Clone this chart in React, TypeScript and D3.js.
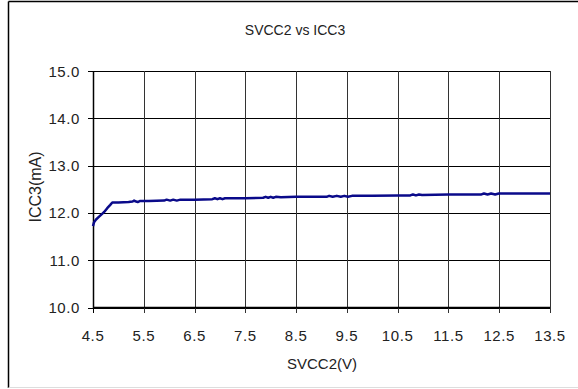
import React from "react";
import * as d3 from "d3";

const title = "SVCC2 vs ICC3";
const xTitle = "SVCC2(V)";
const yTitle = "ICC3(mA)";
const xTicks = [4.5, 5.5, 6.5, 7.5, 8.5, 9.5, 10.5, 11.5, 12.5, 13.5];
const yTicks = [10, 11, 12, 13, 14, 15];

const voltage = [4.5, 4.52, 4.56, 4.62, 4.68, 4.72, 4.78, 4.84, 4.88, 5.0, 5.2, 5.28, 5.31, 5.35, 5.38, 5.42, 5.6, 5.9, 5.95, 6.02, 6.08, 6.15, 6.22, 6.5, 6.85, 6.9, 6.95, 7.0, 7.05, 7.1, 7.5, 7.85, 7.9, 7.95, 8.0, 8.05, 8.1, 8.2, 8.5, 9.1, 9.15, 9.22, 9.3, 9.38, 9.45, 9.52, 9.6, 10.0, 10.5, 10.75, 10.8, 10.86, 10.92, 10.98, 11.5, 12.15, 12.2, 12.27, 12.34, 12.42, 12.49, 13.0, 13.5];
const current = [11.72, 11.8, 11.86, 11.92, 11.98, 12.02, 12.1, 12.17, 12.22, 12.22, 12.23, 12.24, 12.26, 12.24, 12.23, 12.25, 12.25, 12.26, 12.28, 12.26, 12.28, 12.26, 12.28, 12.28, 12.29, 12.31, 12.29, 12.31, 12.29, 12.31, 12.31, 12.32, 12.34, 12.32, 12.34, 12.32, 12.34, 12.33, 12.34, 12.34, 12.36, 12.34, 12.36, 12.34, 12.36, 12.34, 12.36, 12.36, 12.37, 12.37, 12.39, 12.37, 12.39, 12.38, 12.39, 12.39, 12.41, 12.39, 12.41, 12.39, 12.41, 12.41, 12.41];

export default function App() {
  const W = 578, H = 389;
  const x = d3.scaleLinear().domain([4.5, 13.5]).range([93, 550]);
  const y = d3.scaleLinear().domain([10, 15]).range([307.5, 71]);
  const pts: [number, number][] = voltage.map((v, i) => [v, current[i]]);
  const line = d3.line<[number, number]>().x(d => x(d[0])).y(d => y(d[1]));
  const font = "'Liberation Sans', Arial, sans-serif";
  return (
    <svg width={W} height={H} style={{ position: "absolute", left: 0, top: 0 }} fontFamily={font}>
      <rect x={0} y={0} width={W} height={H} fill="#fff" />
      <line x1={8.5} y1={1.5} x2={W} y2={1.5} stroke="#000" strokeWidth={1.5} />
      <line x1={8.5} y1={1.5} x2={8.5} y2={388} stroke="#000" strokeWidth={1.5} />
      <line x1={8.5} y1={387.5} x2={W} y2={387.5} stroke="#ddd" strokeWidth={1} />
      <text x={295} y={35} textAnchor="middle" fontSize={14} fill="#222">{title}</text>
      {yTicks.map(t => (
        <g key={"y" + t}>
          <line x1={93} x2={550} y1={Math.round(y(t)) + 0.5} y2={Math.round(y(t)) + 0.5} stroke="#000" strokeWidth={1} />
          <line x1={88} x2={93} y1={Math.round(y(t)) + 0.5} y2={Math.round(y(t)) + 0.5} stroke="#000" strokeWidth={1} />
          <text x={80} y={y(t) + 5.5} textAnchor="end" fontSize={15} letterSpacing={0.6} fill="#222">{t.toFixed(1)}</text>
        </g>
      ))}
      {xTicks.map(t => (
        <g key={"x" + t}>
          <line x1={Math.round(x(t)) + 0.5} x2={Math.round(x(t)) + 0.5} y1={71} y2={313} stroke={t === 4.5 ? "#000" : "#333"} strokeWidth={1} />
          <text x={x(t)} y={340.5} textAnchor="middle" fontSize={15} letterSpacing={0.6} fill="#222">{t.toFixed(1)}</text>
        </g>
      ))}
      <line x1={93.5} x2={93.5} y1={71} y2={308} stroke="#000" strokeWidth={1.5} />
      <line x1={93} x2={550} y1={307.5} y2={307.5} stroke="#000" strokeWidth={1.5} />
      <path d={line(pts) || ""} fill="none" stroke="#0a0a8a" strokeWidth={2.5} strokeLinejoin="round" />
      <text x={322} y={369} textAnchor="middle" fontSize={15} fill="#222">{xTitle}</text>
      <text transform={`translate(41,${187}) rotate(-90)`} textAnchor="middle" fontSize={16} fill="#222">{yTitle}</text>
    </svg>
  );
}
